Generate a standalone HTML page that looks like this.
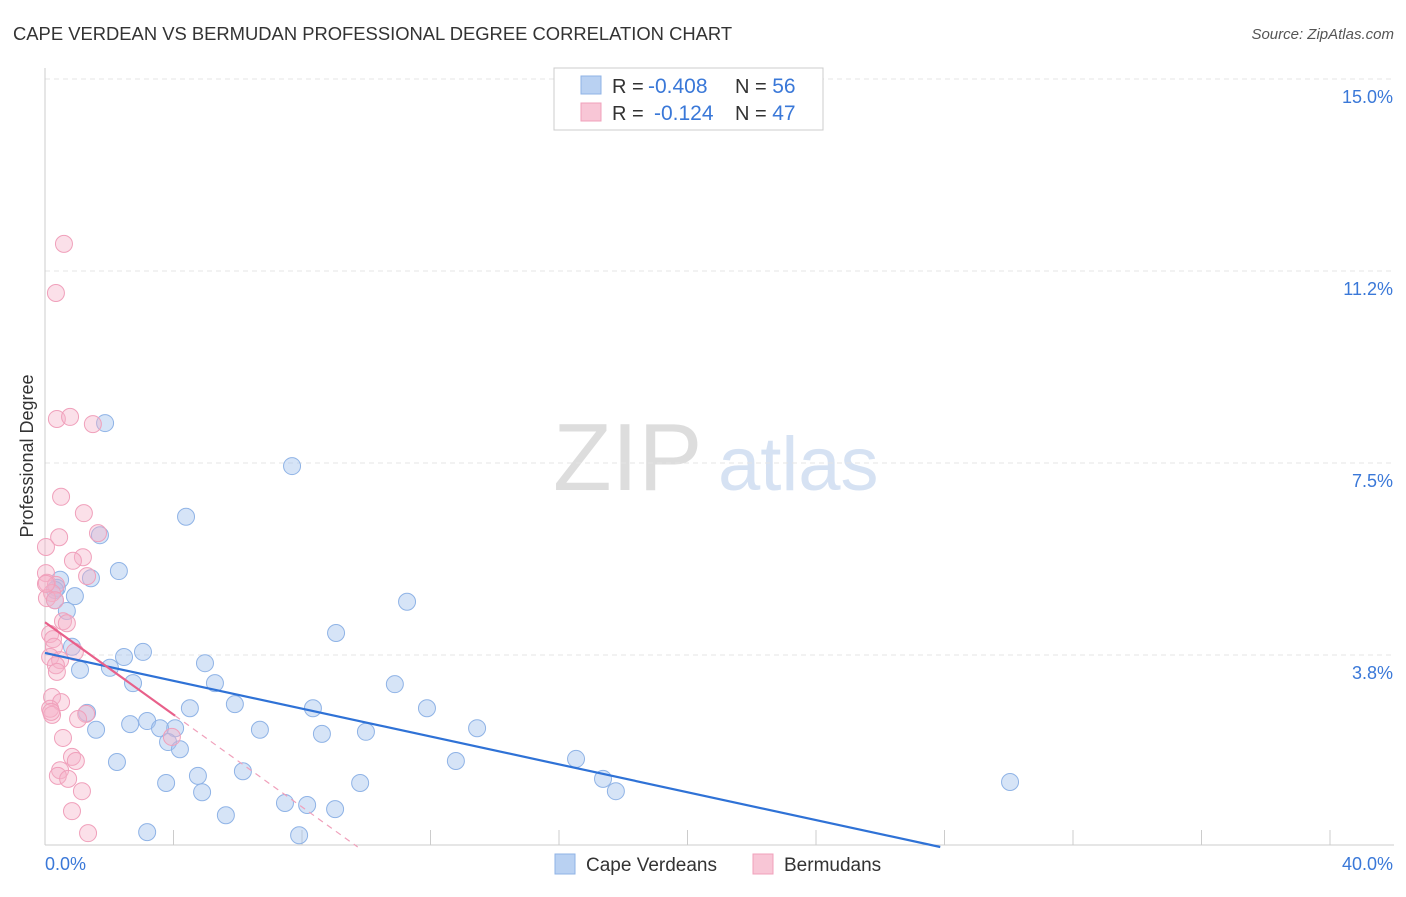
<!DOCTYPE html>
<html><head><meta charset="utf-8">
<style>
body{margin:0;background:#fff;font-family:"Liberation Sans",sans-serif;}
svg text{font-family:"Liberation Sans",sans-serif;}
</style></head>
<body>
<svg id="chart" width="1406" height="892">
<text x="13" y="40" font-size="18.4" fill="#333">CAPE VERDEAN VS BERMUDAN PROFESSIONAL DEGREE CORRELATION CHART</text>
<text x="1394" y="39" font-size="15" fill="#555" font-style="italic" text-anchor="end">Source: ZipAtlas.com</text>
<g>
<text x="553" y="490" font-size="96" fill="#ddd" font-family="Liberation Serif">ZIP</text>
<text x="718" y="490" font-size="76" fill="#d6e2f3">atlas</text>
</g>
<g id="grid"></g>
<g id="axes"></g>
<g id="marks"></g>
<text transform="translate(33,456) rotate(-90)" font-size="18" fill="#333" text-anchor="middle">Professional Degree</text>
<g>
<rect x="554" y="68" width="269" height="62" fill="#fff" stroke="#ccc"/>
<rect x="581" y="76" width="20" height="18" fill="#b9d1f2" stroke="#8fb3e6"/>
<rect x="581" y="103" width="20" height="18" fill="#f8c6d6" stroke="#f0a0bb"/>
<text x="612" y="93" font-size="20" fill="#333">R = </text>
<text x="648" y="93" font-size="21" fill="#3a78d8">-0.408</text>
<text x="735" y="93" font-size="20" fill="#333">N = <tspan fill="#3a78d8" font-size="21">56</tspan></text>
<text x="612" y="120" font-size="20" fill="#333">R = </text>
<text x="654" y="120" font-size="21" fill="#3a78d8">-0.124</text>
<text x="735" y="120" font-size="20" fill="#333">N = <tspan fill="#3a78d8" font-size="21">47</tspan></text>
</g>
<g>
<rect x="555" y="854" width="20" height="20" fill="#b9d1f2" stroke="#8fb3e6"/>
<text x="586" y="871" font-size="19" fill="#333">Cape Verdeans</text>
<text x="784" y="871" font-size="19" fill="#333">Bermudans</text>
<rect x="753" y="854" width="20" height="20" fill="#f8c6d6" stroke="#f0a0bb"/>
</g>
</svg>
<script>
const yTicks=[3.75,7.5,11.25,15];
const yTickLabels=["3.8%","7.5%","11.2%","15.0%"];
const xTicks=[0,4,8,12,16,20,24,28,32,36,40];
const blueX=[1.87,7.69,4.39,1.71,2.30,1.43,0.47,0.37,0.93,0.31,0.68,11.27,9.06,0.84,3.05,2.46,4.98,1.09,2.02,5.29,2.74,10.89,5.91,4.51,8.34,11.89,1.31,3.18,2.65,4.05,3.58,1.59,6.69,9.99,13.45,8.62,3.83,4.2,12.79,16.53,2.24,6.16,4.76,3.77,9.81,17.37,30.04,17.77,4.89,7.47,8.16,9.03,5.63,3.18,7.91,0.31];
const blueY=[8.28,7.44,6.45,6.09,5.39,5.25,5.22,5.06,4.9,4.82,4.61,4.79,4.18,3.91,3.81,3.71,3.59,3.46,3.5,3.2,3.2,3.18,2.79,2.71,2.71,2.71,2.62,2.46,2.4,2.32,2.32,2.29,2.29,2.25,2.32,2.21,2.05,1.91,1.68,1.72,1.66,1.48,1.39,1.25,1.25,1.33,1.27,1.09,1.07,0.86,0.82,0.74,0.62,0.29,0.23,5.02];
const pinkX=[0.59,0.34,0.37,0.78,1.49,0.5,1.21,0.44,1.65,0.03,1.18,0.87,0.03,1.31,0.06,0.34,0.22,0.06,0.56,0.16,0.25,0.28,0.93,0.16,0.47,0.34,0.37,0.22,0.5,0.16,0.22,1.28,1.03,3.95,0.56,0.84,0.96,0.47,0.4,0.72,1.15,0.84,1.34,0.03,0.19,0.31,0.68];
const pinkY=[11.78,10.82,8.36,8.4,8.26,6.84,6.52,6.05,6.13,5.86,5.66,5.59,5.35,5.29,5.16,5.12,4.96,4.86,4.41,4.16,4.06,3.91,3.81,3.71,3.65,3.55,3.42,2.93,2.83,2.7,2.58,2.6,2.5,2.15,2.13,1.76,1.68,1.5,1.39,1.33,1.09,0.7,0.27,5.14,2.64,4.82,4.37];
const blueTrend=[3.79,-0.136];
const pinkTrend=[4.39,-0.451];
const X0=45,X1=1330,Y0=847,PXY=192/3.75;
const sx=v=>X0+(X1-X0)*v/40, sy=v=>Y0-v*PXY;
const NS="http://www.w3.org/2000/svg";
function mk(parent,tag,attrs){const e=document.createElementNS(NS,tag);for(const k in attrs)e.setAttribute(k,attrs[k]);document.getElementById(parent).appendChild(e);return e;}
yTicks.forEach((t,i)=>{
 const l=mk('grid','line',{x1:X0,x2:1394,y1:sy(t),y2:sy(t),stroke:'#e4e4e4','stroke-dasharray':'5,4'});
 
 
 const tx=mk('axes','text',{x:1393,y:sy(t)+24,'font-size':18,fill:'#3a78d8','text-anchor':'end'});
 tx.textContent=yTickLabels[i];
 
 
});
let al=mk('axes','line',{x1:X0,x2:X0,y1:68,y2:845,stroke:'#ccc'});


let bl=mk('axes','line',{x1:X0,x2:1394,y1:845,y2:845,stroke:'#ccc'});


xTicks.forEach(t=>{
 const l=mk('axes','line',{x1:sx(t),x2:sx(t),y1:830,y2:845,stroke:'#ccc'});
 
 
});
let xl0=mk('axes','text',{x:45,y:870,'font-size':18,fill:'#3a78d8'});xl0.textContent='0.0%';


let xl1=mk('axes','text',{x:1393,y:870,'font-size':18,fill:'#3a78d8','text-anchor':'end'});xl1.textContent='40.0%';


blueX.forEach((x,i)=>{
 const c=mk('marks','circle',{cx:sx(x),cy:sy(blueY[i]),r:8.5,fill:'rgba(165,195,238,0.45)',stroke:'#8fb3e6','stroke-width':1});
 
 
});
pinkX.forEach((x,i)=>{
 const c=mk('marks','circle',{cx:sx(x),cy:sy(pinkY[i]),r:8.5,fill:'rgba(246,178,200,0.4)',stroke:'#f0a0bb','stroke-width':1});
 
 
});
const bEnd=-blueTrend[0]/blueTrend[1];
let bt=mk('marks','line',{x1:sx(0),y1:sy(blueTrend[0]),x2:sx(bEnd),y2:sy(0),stroke:'#2f72d6','stroke-width':2.2});


const pEnd=-pinkTrend[0]/pinkTrend[1], pSolid=4.05;
let pt=mk('marks','line',{x1:sx(0),y1:sy(pinkTrend[0]),x2:sx(pSolid),y2:sy(pinkTrend[0]+pinkTrend[1]*pSolid),stroke:'#e8608a','stroke-width':2.2});


let pd=mk('marks','line',{x1:sx(pSolid),y1:sy(pinkTrend[0]+pinkTrend[1]*pSolid),x2:sx(pEnd),y2:sy(0),stroke:'#f0a0bb','stroke-width':1.2,'stroke-dasharray':'6,5'});


</script>
</body></html>
